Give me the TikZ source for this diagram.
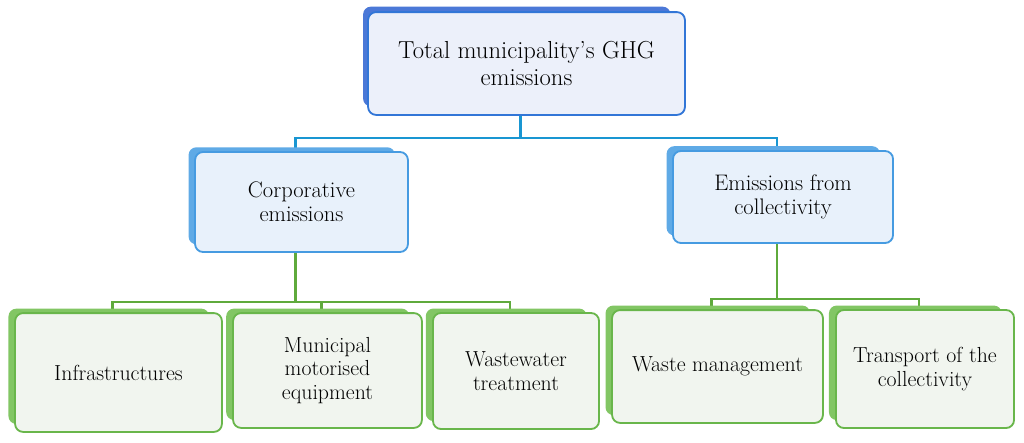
\documentclass[tikz,border=0pt]{standalone}
\usepackage{tikz}
\usetikzlibrary{positioning,calc,shadows,backgrounds}
\definecolor{myblue}{RGB}{50,118,215}
\definecolor{mybluedark}{RGB}{75,120,215}
\definecolor{mybluepale}{RGB}{236,240,250}
\definecolor{mycyan}{RGB}{70,155,225}
\definecolor{mycyanshade}{RGB}{95,170,230}
\definecolor{mycyanpale}{RGB}{232,241,251}
\definecolor{mylink}{RGB}{25,150,210}
\definecolor{mygreen}{RGB}{105,182,75}
\definecolor{mygreenshade}{RGB}{130,198,100}
\definecolor{mygreenpale}{RGB}{241,245,239}
\definecolor{mygreenlink}{RGB}{95,170,60}

\tikzset{
  topbox/.style={rounded corners=0.2cm, draw=myblue, line width=1.3pt, fill=mybluepale,
    align=center, inner sep=0pt, font=\fontsize{17.5pt}{18.5pt}\selectfont,
    general shadow={fill=mybluedark, shadow scale=0.97, shadow xshift=-0.25cm, shadow yshift=0.18cm}},
  midbox/.style={rounded corners=0.2cm, draw=mycyan, line width=1.3pt, fill=mycyanpale,
    align=center, inner sep=0pt, font=\fontsize{16pt}{17pt}\selectfont,
    general shadow={fill=mycyanshade, shadow scale=0.97, shadow xshift=-0.25cm, shadow yshift=0.16cm}},
  leafbox/.style={rounded corners=0.2cm, draw=mygreen, line width=1.3pt, fill=mygreenpale,
    align=center, inner sep=0pt, font=\fontsize{15.5pt}{17pt}\selectfont,
    general shadow={fill=mygreenshade, shadow scale=0.97, shadow xshift=-0.25cm, shadow yshift=0.16cm}},
  bluelink/.style={draw=mylink, line width=1.6pt},
  greenlink/.style={draw=mygreenlink, line width=1.6pt},
}

\begin{document}
\begin{tikzpicture}[x=0.025cm, y=-0.025cm]
    \useasboundingbox (0,0) rectangle (1024,442);
    % root
    \node[topbox, minimum width=7.92cm, minimum height=2.57cm] (total) at (526.5,63.5)
      {Total municipality’s GHG\\emissions};
    % second level
    \node[midbox, minimum width=5.32cm, minimum height=2.5cm] (corp) at (301.5,202)
      {Corporative\\emissions};
    \node[midbox, minimum width=5.5cm, minimum height=2.3cm] (coll) at (783,197)
      {Emissions from\\collectivity};
    % leaves
    \node[leafbox, minimum width=5.17cm, minimum height=2.97cm] (infra) at (118.5,372.5)
      {Infrastructures};
    \node[leafbox, minimum width=4.72cm, minimum height=2.87cm] (munic) at (327.5,370.5)
      {Municipal\\motorised\\equipment};
    \node[leafbox, minimum width=4.15cm, minimum height=2.9cm] (water) at (516,371)
      {Wastewater\\treatment};
    \node[leafbox, minimum width=5.27cm, minimum height=2.82cm] (waste) at (717.5,366.5)
      {Waste management};
    \node[leafbox, minimum width=4.45cm, minimum height=2.95cm] (trans) at (925,369)
      {Transport of the\\collectivity};

    \begin{scope}[on background layer]
      \draw[bluelink] ([xshift=-0.15cm]total.south) -- ++(0,22) -| ([xshift=-0.15cm]corp.north);
      \draw[bluelink] ([xshift=-0.15cm]total.south) -- ++(0,22) -| ([xshift=-0.15cm]coll.north);
      \draw[greenlink] ([xshift=-0.15cm]corp.south) -- ++(0,49) -| ([xshift=-0.15cm]infra.north);
      \draw[greenlink] ([xshift=-0.15cm]corp.south) -- ++(0,49) -| ([xshift=-0.15cm]munic.north);
      \draw[greenlink] ([xshift=-0.15cm]corp.south) -- ++(0,49) -| ([xshift=-0.15cm]water.north);
      \draw[greenlink] ([xshift=-0.15cm]coll.south) -- ++(0,55) -| ([xshift=-0.15cm]waste.north);
      \draw[greenlink] ([xshift=-0.15cm]coll.south) -- ++(0,55) -| ([xshift=-0.15cm]trans.north);
    \end{scope}
\end{tikzpicture}
\end{document}
